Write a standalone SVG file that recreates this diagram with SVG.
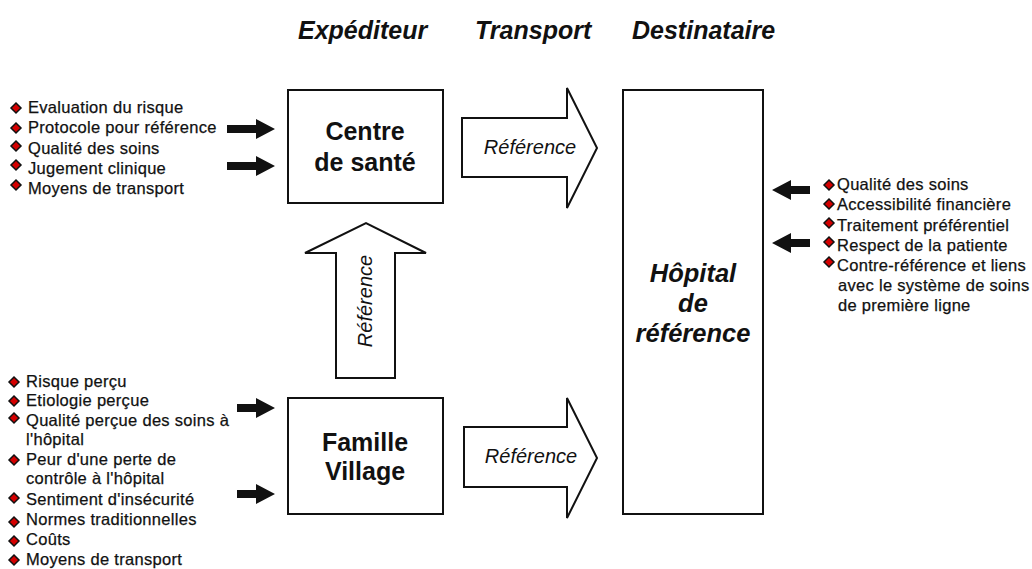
<svg xmlns="http://www.w3.org/2000/svg" width="1032" height="569" viewBox="0 0 1032 569">
<style>
text{font-family:"Liberation Sans",Arial,sans-serif;fill:#111}
.title{font-size:25px;font-weight:bold;font-style:italic}
.node{font-size:25px;font-weight:bold;text-anchor:middle}
.hosp{font-size:25.5px;font-weight:bold;font-style:italic;text-anchor:middle}
.lbl{font-size:20px;font-style:italic;text-anchor:middle}
.li{font-size:16.5px;letter-spacing:0.3px;stroke:#111;stroke-width:0.25}
.box{fill:#fff;stroke:#111;stroke-width:2}
.big{fill:#fff;stroke:#111;stroke-width:2;stroke-linejoin:miter}
</style>
<defs>
<path id="bul" d="M0,-5 L5,0 L0,5 L-5,0Z" fill="#d40000" stroke="#111" stroke-width="1.5"/>
<path id="ar" d="M0,-4 L19,-4 L19,-10 L38,0 L19,10 L19,4 L0,4Z" fill="#111"/>
<path id="arl" d="M0,-4 L29,-4 L29,-10 L48,0 L29,10 L29,4 L0,4Z" fill="#111"/>
</defs>
<rect width="1032" height="569" fill="#fff"/>

<g id="titles">
<text class="title" x="298" y="39">Expéditeur</text>
<text class="title" x="475" y="39">Transport</text>
<text class="title" x="632" y="39">Destinataire</text>
</g>

<g id="connectors">
<path class="big" d="M462,118 L567,118 L567,88 L597,148 L567,208 L567,177 L462,177Z"/>
<text class="lbl" x="530" y="154">Référence</text>
<path class="big" d="M464,427 L567,427 L567,398 L597,458 L567,518 L567,487 L464,487Z"/>
<text class="lbl" x="531" y="463">Référence</text>
<path class="big" d="M336,378 L336,253 L305,253 L366,223 L426,253 L395,253 L395,378Z"/>
<text class="lbl" transform="translate(372,301) rotate(-90)" x="0" y="0">Référence</text>
<use href="#arl" transform="translate(227,129)"/>
<use href="#arl" transform="translate(227,166)"/>
<use href="#ar" transform="translate(237,408)"/>
<use href="#ar" transform="translate(237,494)"/>
<use href="#ar" transform="translate(810,190) scale(-1,1)"/>
<use href="#ar" transform="translate(810,243) scale(-1,1)"/>
</g>

<g id="centre-sante">
<rect class="box" x="288" y="90" width="155" height="113"/>
<text class="node" x="365" y="140">Centre</text>
<text class="node" x="365" y="171">de santé</text>
</g>

<g id="famille-village">
<rect class="box" x="288" y="398" width="155" height="116"/>
<text class="node" x="365" y="451">Famille</text>
<text class="node" x="365" y="480">Village</text>
</g>

<g id="hopital">
<rect class="box" x="623" y="90" width="140" height="424"/>
<text class="hosp" x="693" y="282">Hôpital</text>
<text class="hosp" x="693" y="312">de</text>
<text class="hosp" x="693" y="342">référence</text>
</g>

<g id="list-centre">
<use href="#bul" x="16" y="108"/><text class="li" x="28" y="113">Evaluation du risque</text>
<use href="#bul" x="16" y="128"/><text class="li" x="28" y="133">Protocole pour référence</text>
<use href="#bul" x="16" y="146"/><text class="li" x="28" y="154">Qualité des soins</text>
<use href="#bul" x="16" y="165"/><text class="li" x="28" y="174">Jugement clinique</text>
<use href="#bul" x="16" y="185"/><text class="li" x="28" y="194">Moyens de transport</text>
</g>

<g id="list-famille">
<use href="#bul" x="14" y="382"/><text class="li" x="26" y="387">Risque perçu</text>
<use href="#bul" x="14" y="401"/><text class="li" x="26" y="406">Etiologie perçue</text>
<use href="#bul" x="14" y="418"/><text class="li" x="26" y="426">Qualité perçue des soins à</text>
<text class="li" x="26" y="445">l'hôpital</text>
<use href="#bul" x="14" y="460"/><text class="li" x="26" y="465">Peur d'une perte de</text>
<text class="li" x="26" y="484">contrôle à l'hôpital</text>
<use href="#bul" x="14" y="498"/><text class="li" x="26" y="505">Sentiment d'insécurité</text>
<use href="#bul" x="14" y="522"/><text class="li" x="26" y="525">Normes traditionnelles</text>
<use href="#bul" x="14" y="541"/><text class="li" x="26" y="545">Coûts</text>
<use href="#bul" x="14" y="560"/><text class="li" x="26" y="565">Moyens de transport</text>
</g>

<g id="list-hopital">
<use href="#bul" x="829" y="185"/><text class="li" x="837" y="190">Qualité des soins</text>
<use href="#bul" x="829" y="204"/><text class="li" x="837" y="210">Accessibilité financière</text>
<use href="#bul" x="829" y="223"/><text class="li" x="837" y="231">Traitement préférentiel</text>
<use href="#bul" x="829" y="242"/><text class="li" x="837" y="251">Respect de la patiente</text>
<use href="#bul" x="829" y="262"/><text class="li" x="837" y="271">Contre-référence et liens</text>
<text class="li" x="838" y="291">avec le système de soins</text>
<text class="li" x="838" y="311">de première ligne</text>
</g>
</svg>
